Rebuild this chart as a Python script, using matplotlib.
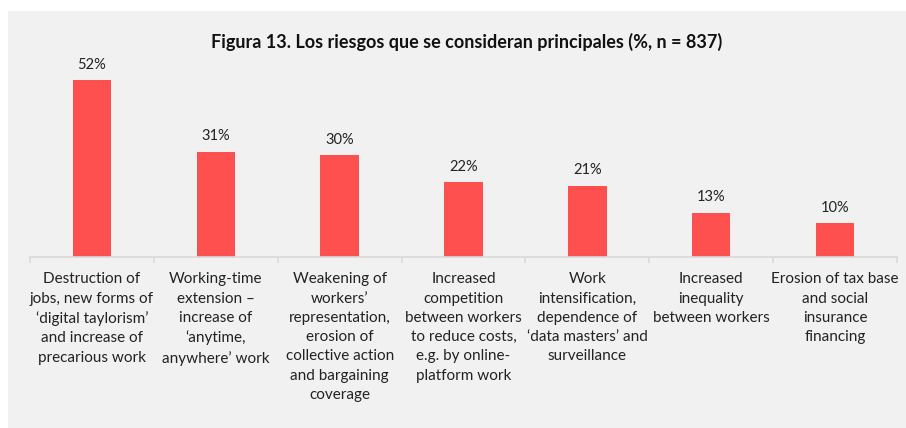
import matplotlib.pyplot as plt
from matplotlib.patches import Rectangle

plt.rcParams['font.family'] = ['Lato', 'DejaVu Sans']

categories = [
    "Destruction of\njobs, new forms of\n\u2018digital taylorism\u2019\nand increase of\nprecarious work",
    "Working-time\nextension \u2013\nincrease of\n\u2018anytime,\nanywhere\u2019 work",
    "Weakening of\nworkers\u2019\nrepresentation,\nerosion of\ncollective action\nand bargaining\ncoverage",
    "Increased\ncompetition\nbetween workers\nto reduce costs,\ne.g. by online-\nplatform work",
    "Work\nintensification,\ndependence of\n\u2018data masters\u2019 and\nsurveillance",
    "Increased\ninequality\nbetween workers",
    "Erosion of tax base\nand social\ninsurance\nfinancing",
]
values = [52, 31, 30, 22, 21, 13, 10]
title = "Figura 13. Los riesgos que se consideran principales (%, n = 837)"

W, H = 906, 428
fig = plt.figure(figsize=(W / 100, H / 100), dpi=100, facecolor="white")

# light gray panel behind the chart
fig.patches.append(Rectangle((8 / W, 0), 1 - 8 / W, 1 - 11 / H,
                             transform=fig.transFigure, facecolor="#f1f1f1",
                             edgecolor="none", zorder=-5))

ax = fig.add_axes([30 / W, (H - 257) / H, (897 - 30) / W, 204 / H])
ax.set_facecolor("none")

x = range(len(values))
bars = ax.bar(x, values, width=0.31, color="#ff5050", zorder=2)
for b, v in zip(bars, values):
    ax.annotate(f"{v}%", (b.get_x() + b.get_width() / 2, v),
                xytext=(0, 6), textcoords="offset points",
                ha="center", va="bottom", fontsize=10.5, color="#222222")

ax.set_xlim(-0.5, len(values) - 0.5)
ax.set_ylim(0, 60)
ax.set_yticks([])
for s in ("top", "right", "left"):
    ax.spines[s].set_visible(False)
ax.spines["bottom"].set_color("#d9d9d9")
ax.spines["bottom"].set_linewidth(1.2)

ax.set_xticks(list(x))
ax.set_xticklabels(categories, fontsize=11, linespacing=1.48, color="#222222")
ax.tick_params(axis="x", which="major", length=0, pad=11)
ax.set_xticks([i - 0.5 for i in range(len(values) + 1)], minor=True)
ax.tick_params(axis="x", which="minor", length=4, color="#d9d9d9", width=1.2)

fig.text(467 / W, 1 - 42 / H, title, ha="center", va="center",
         fontsize=13, fontweight="bold", color="#111111")

fig.savefig("out.png", dpi=100, facecolor="white")
